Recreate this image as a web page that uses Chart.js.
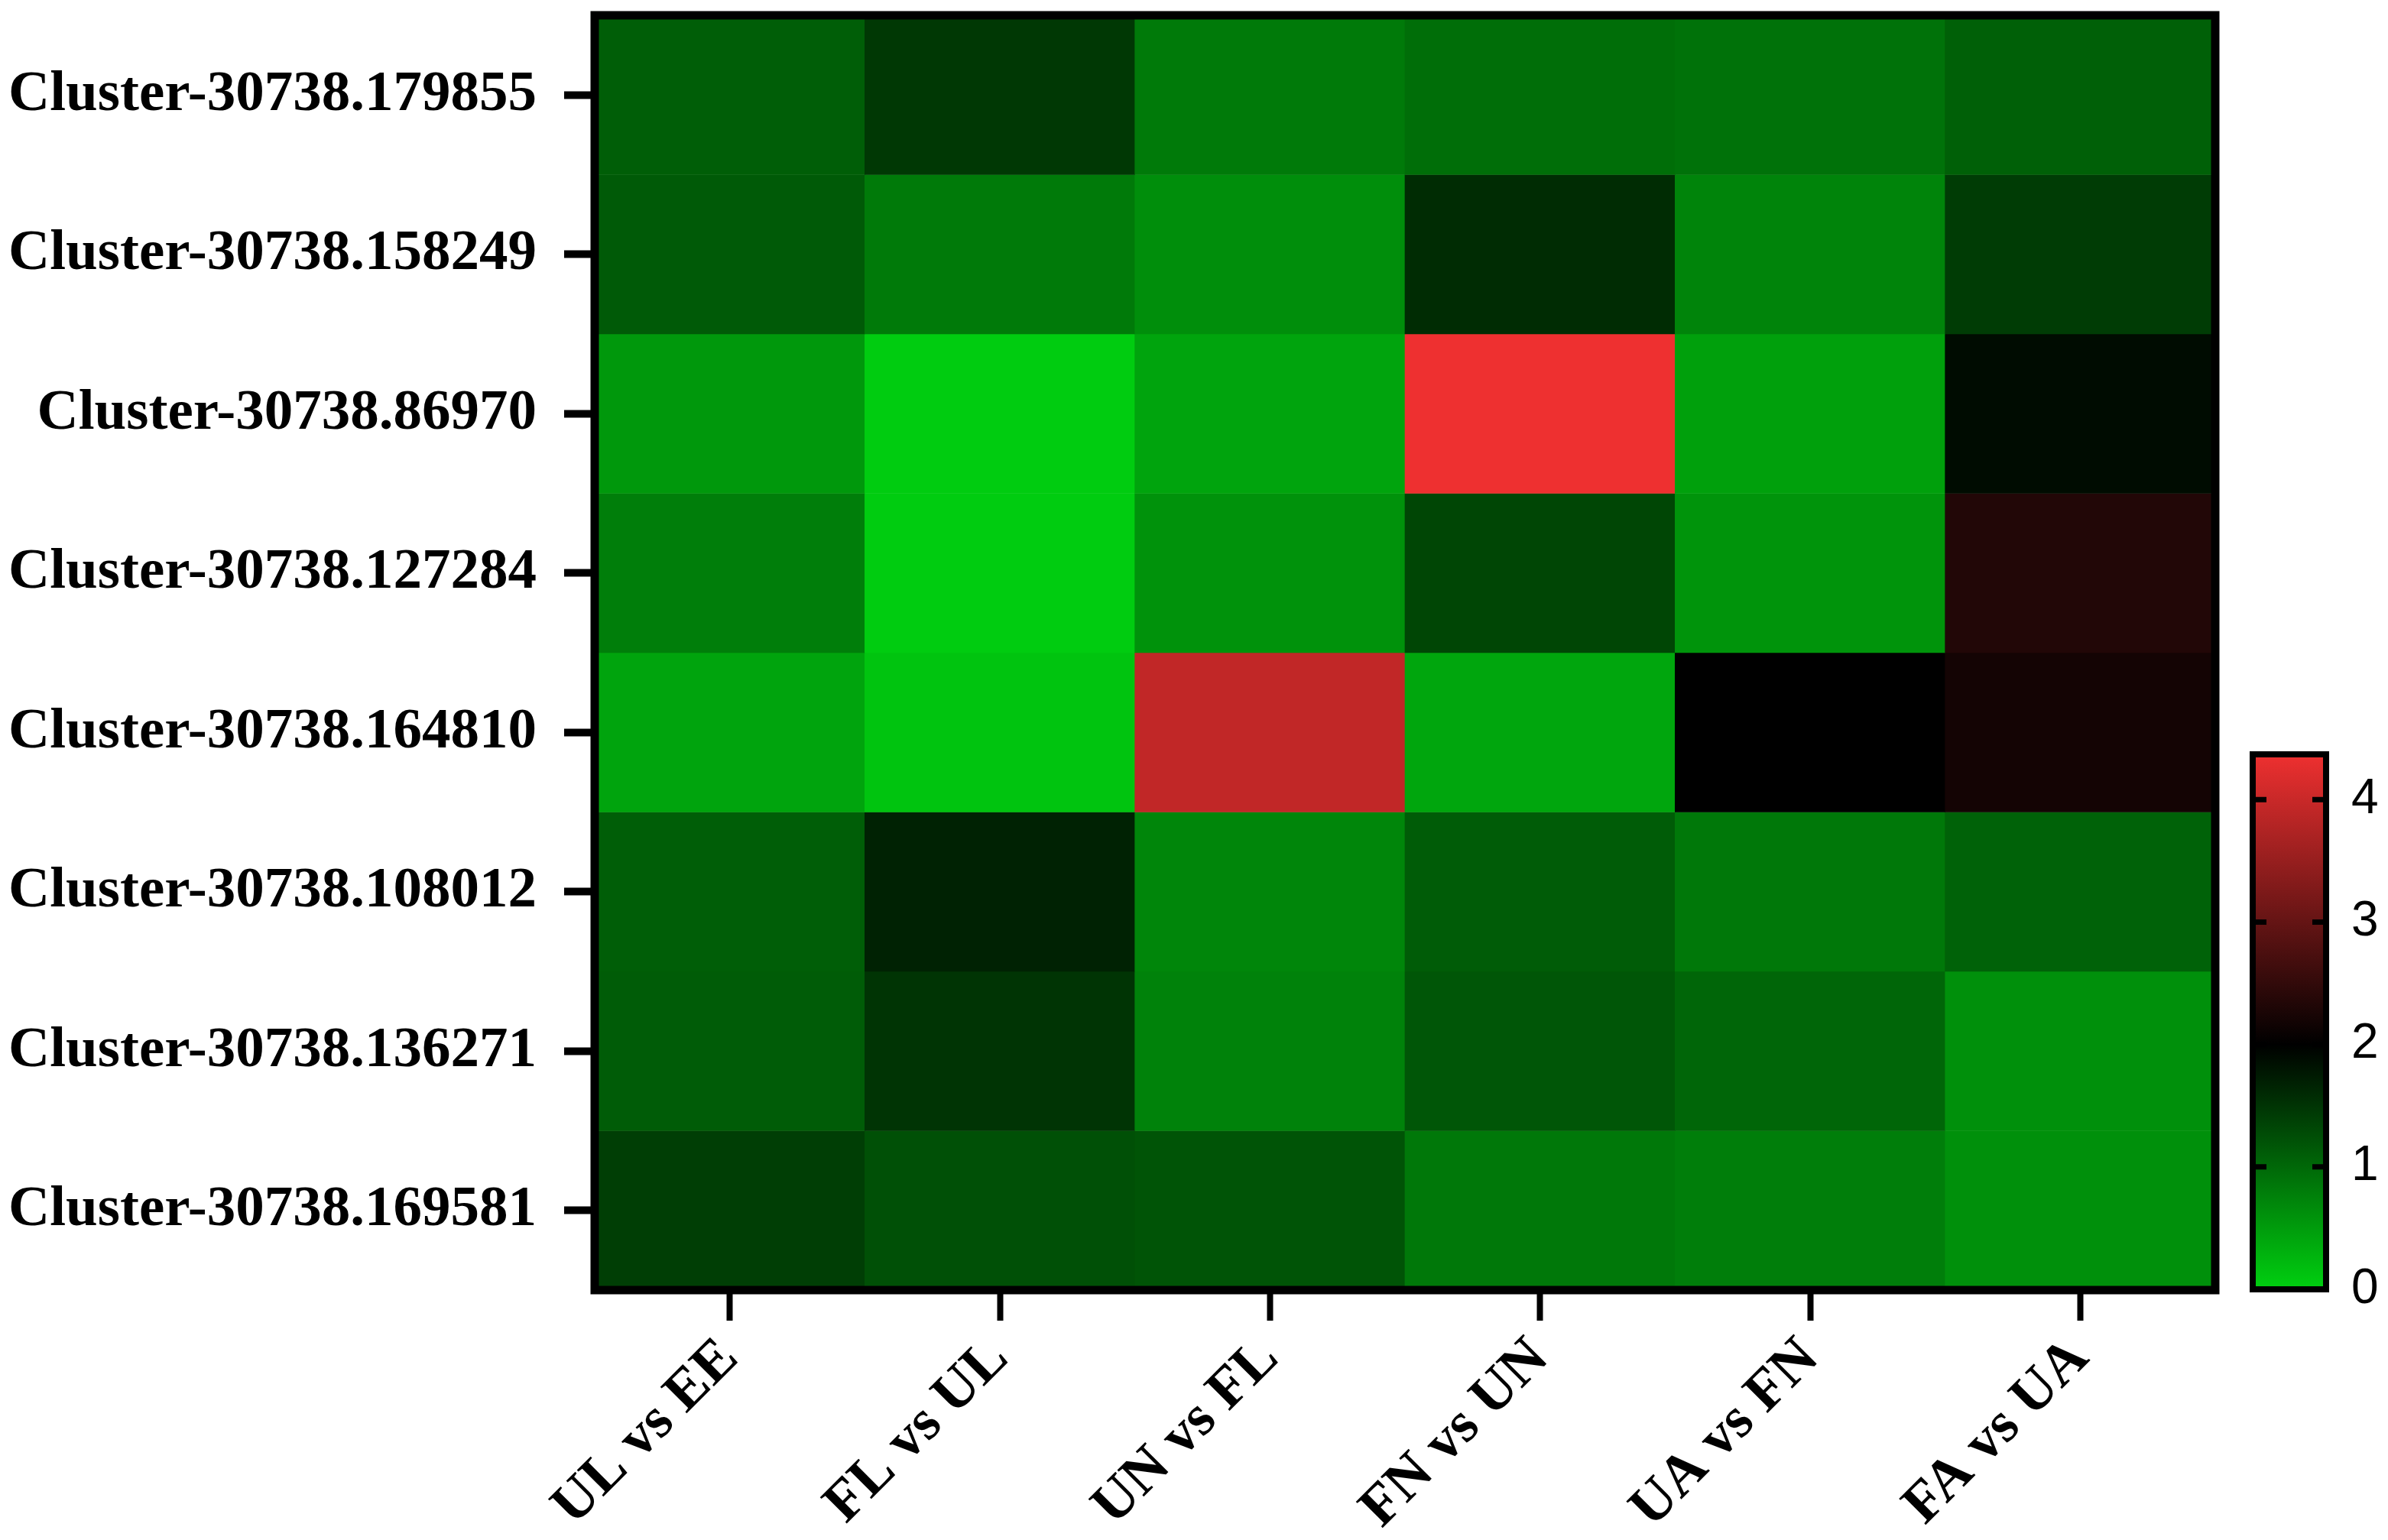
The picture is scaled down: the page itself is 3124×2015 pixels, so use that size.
<!DOCTYPE html>
<html>
<head>
<meta charset="utf-8">
<script src="https://cdn.jsdelivr.net/npm/chart.js@4.4.1/dist/chart.umd.min.js"></script>
<style>
    body { margin: 0; background: #fff; }
    #wrap { position: relative; width: 3124px; height: 2015px; }
    #heatmap { position: absolute; left: 0; top: 0; }
    #colorbar { position: absolute; left: 2900px; top: 960px; }
</style>
</head>
<body>
<div id="wrap">
    <canvas id="heatmap" width="3124" height="2015"></canvas>
    <canvas id="colorbar" width="224" height="760"></canvas>
</div>
<script>
// comparisons (columns) and clusters (rows, top to bottom)
const columns = ['UL vs EE', 'FL vs UL', 'UN vs FL', 'FN vs UN', 'UA vs FN', 'FA vs UA'];
const rows = [
    'Cluster-30738.179855', 'Cluster-30738.158249', 'Cluster-30738.86970', 'Cluster-30738.127284',
    'Cluster-30738.164810', 'Cluster-30738.108012', 'Cluster-30738.136271', 'Cluster-30738.169581'
];

const c179855 = [1.10, 1.46, 0.83, 0.94, 0.90, 1.08];
const c158249 = [1.13, 0.83, 0.63, 1.58, 0.73, 1.42];
const c86970  = [0.54, 0.04, 0.42, 4.37, 0.46, 1.88];
const c127284 = [0.79, 0.04, 0.60, 1.33, 0.58, 2.34];
const c164810 = [0.42, 0.12, 3.92, 0.40, 2.00, 2.20];
const c108012 = [1.10, 1.67, 0.71, 1.12, 0.85, 1.06];
const c136271 = [1.12, 1.50, 0.75, 1.17, 1.02, 0.62];
const c169581 = [1.40, 1.23, 1.19, 0.85, 0.79, 0.62];
const matrix  = [c179855, c158249, c86970, c127284, c164810, c108012, c136271, c169581];

// colour scale
const scaleTicks = [0, 1, 2, 3, 4];
const CB_MAX = 4.37;
const LOW  = [0, 208, 16];
const MID  = [0, 0, 0];
const HIGH = [238, 48, 48];

function mix(a, b, t) {
    return 'rgb(' + a.map((v, i) => Math.round(v + (b[i] - v) * t)).join(',') + ')';
}

function cellColor(v) {
    if (v <= 2) return mix(LOW, MID, Math.max(0, v) / 2);
    return mix(MID, HIGH, Math.min(1, (v - 2) / (CB_MAX - 2)));
}

// keep label overhang from pushing the plot area around
function noPad(s) {
    s.paddingTop = 0; s.paddingBottom = 0; s.paddingLeft = 0; s.paddingRight = 0;
}

const serifBold = { family: 'Liberation Serif', weight: 'bold', size: 75 };

// thick black frame around the plot area
const framePlugin = {
    id: 'frame',
    afterDatasetsDraw(chart, args, opts) {
        const a = chart.chartArea;
        const ctx = chart.ctx;
        ctx.save();
        ctx.strokeStyle = '#000';
        ctx.lineWidth = opts.width || 11;
        ctx.strokeRect(a.left, a.top, a.right - a.left, a.bottom - a.top);
        ctx.restore();
    }
};

new Chart(document.getElementById('heatmap'), {
    type: 'bar',
    data: {
        labels: columns,
        datasets: matrix.map((vals, r) => ({
            label: rows[r],
            data: vals.map(() => [r, r + 1]),
            backgroundColor: vals.map(cellColor),
            borderWidth: 0,
            grouped: false,
            barPercentage: 1,
            categoryPercentage: 1
        }))
    },
    options: {
        responsive: false,
        animation: false,
        layout: { padding: { top: 20, right: 226, left: 0, bottom: 0 } },
        plugins: { legend: { display: false }, tooltip: { enabled: false }, frame: { width: 11 } },
        scales: {
            x: {
                type: 'category',
                offset: true,
                afterFit: s => { s.height = 327; noPad(s); },
                border: { display: false },
                grid: { offset: false, drawOnChartArea: false, drawTicks: true, tickLength: 40, tickWidth: 8, tickColor: '#000' },
                ticks: { color: '#000', font: serifBold, minRotation: 45, maxRotation: 45, autoSkip: false, padding: 6 }
            },
            y: {
                type: 'linear',
                min: 0,
                max: rows.length,
                reverse: true,
                afterFit: s => { s.width = 778; noPad(s); },
                afterBuildTicks: s => { s.ticks = rows.map((_, i) => ({ value: i + 0.5 })); },
                border: { display: false },
                grid: { drawOnChartArea: false, drawTicks: true, tickLength: 40, tickWidth: 10, tickColor: '#000' },
                ticks: { color: '#000', font: serifBold, padding: 36, callback: v => rows[Math.floor(v)] }
            }
        }
    },
    plugins: [framePlugin]
});

// colour bar: inward tick marks on both edges
const cbTickPlugin = {
    id: 'cbTicks',
    afterDatasetsDraw(chart) {
        const a = chart.chartArea;
        const y = chart.scales.y;
        const ctx = chart.ctx;
        ctx.save();
        ctx.strokeStyle = '#000';
        ctx.lineWidth = 7;
        scaleTicks.forEach(t => {
            if (t === 0) return;
            const py = y.getPixelForValue(t);
            ctx.beginPath();
            ctx.moveTo(a.left, py); ctx.lineTo(a.left + 18, py);
            ctx.moveTo(a.right - 18, py); ctx.lineTo(a.right, py);
            ctx.stroke();
        });
        ctx.lineWidth = 8;
        ctx.strokeRect(a.left, a.top, a.right - a.left, a.bottom - a.top);
        ctx.restore();
    }
};

new Chart(document.getElementById('colorbar'), {
    type: 'bar',
    data: {
        labels: ['scale'],
        datasets: [{
            data: [[0, CB_MAX]],
            borderWidth: 0,
            barPercentage: 1,
            categoryPercentage: 1,
            backgroundColor: c => {
                const chart = c.chart;
                if (!chart.chartArea) return '#000';
                const y = chart.scales.y;
                const g = chart.ctx.createLinearGradient(0, y.getPixelForValue(0), 0, y.getPixelForValue(CB_MAX));
                g.addColorStop(0, mix(LOW, LOW, 0));
                g.addColorStop(2 / CB_MAX, mix(MID, MID, 0));
                g.addColorStop(1, mix(HIGH, HIGH, 0));
                return g;
            }
        }]
    },
    options: {
        responsive: false,
        animation: false,
        layout: { padding: { top: 27, left: 47, right: 0, bottom: 33 } },
        plugins: { legend: { display: false }, tooltip: { enabled: false } },
        scales: {
            x: { display: false },
            y: {
                position: 'right',
                min: 0,
                max: CB_MAX,
                afterFit: s => { s.width = 81; noPad(s); },
                afterBuildTicks: s => { s.ticks = scaleTicks.map(v => ({ value: v })); },
                border: { display: false },
                grid: { display: false, drawTicks: false },
                ticks: { color: '#000', padding: 33, font: { family: 'Liberation Sans', size: 64 } }
            }
        }
    },
    plugins: [cbTickPlugin]
});
</script>
</body>
</html>
